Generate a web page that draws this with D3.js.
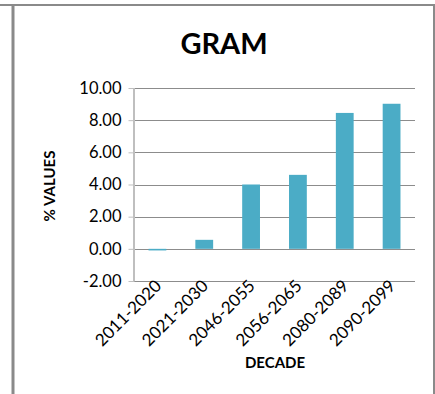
<!DOCTYPE html>
<html>
<head>
<meta charset="utf-8">
<script src="https://cdn.jsdelivr.net/npm/d3@7"></script>
<style>
  html, body { margin: 0; padding: 0; background: #fff; }
  svg { display: block; }
  text { font-family: Lato, "Open Sans", "Liberation Sans", sans-serif; fill: #000; }
</style>
</head>
<body>
<svg id="chart" width="435" height="394"></svg>
<script>
// Decade categories and percentage values
const decades = ["2011-2020", "2021-2030", "2046-2055", "2056-2065", "2080-2089", "2090-2099"];
const values = [-0.1, 0.56, 4.0, 4.6, 8.45, 9.02];
const yTicks = [-2, 0, 2, 4, 6, 8, 10];

const svg = d3.select("#chart");
const W = 435, H = 394;

// outer frame
svg.append("line").attr("x1", 0).attr("x2", 435).attr("y1", 5).attr("y2", 5)
  .attr("stroke", "#8a8a8a").attr("stroke-width", 2);
svg.append("line").attr("x1", 13).attr("x2", 13).attr("y1", 4).attr("y2", H)
  .attr("stroke", "#8a8a8a").attr("stroke-width", 3);
svg.append("line").attr("x1", 434).attr("x2", 434).attr("y1", 4).attr("y2", H)
  .attr("stroke", "#8a8a8a").attr("stroke-width", 2);

const plot = { left: 134, right: 415, top: 88, bottom: 281 };

const x = d3.scaleBand().domain(decades).range([plot.left, plot.right]).paddingInner(0.62).paddingOuter(0.31);
const y = d3.scaleLinear().domain([-2, 10]).range([plot.bottom, plot.top]);

// gridlines
svg.append("g").selectAll("line").data(yTicks).join("line")
  .attr("x1", plot.left).attr("x2", plot.right)
  .attr("y1", d => Math.round(y(d)) + 0.5).attr("y2", d => Math.round(y(d)) + 0.5)
  .attr("stroke", "#8c8c8c").attr("stroke-width", 1);

// y axis
const fmt = d => d3.format(".2f")(d).replace("\u2212", "-");
const yAxis = d3.axisLeft(y).tickValues(yTicks).tickFormat(fmt).tickSize(6).tickPadding(7);
const gy = svg.append("g").attr("transform", `translate(${plot.left + 0.5},0)`).call(yAxis);
gy.select(".domain").remove();
gy.selectAll(".tick line").attr("stroke", "#bfbfbf");
gy.selectAll(".tick text").attr("font-size", 16.5).attr("fill", "#000")
  .style("font-family", "Lato, 'Open Sans', sans-serif");
svg.append("line").attr("x1", plot.left).attr("x2", plot.left)
  .attr("y1", y(10)).attr("y2", y(-2)).attr("stroke", "#bfbfbf").attr("stroke-width", 2);

// bars
svg.append("g").selectAll("rect").data(decades).join("rect")
  .attr("x", d => x(d))
  .attr("width", x.bandwidth())
  .attr("y", (d, i) => y(Math.max(0, values[i])))
  .attr("height", (d, i) => Math.abs(y(values[i]) - y(0)))
  .attr("fill", "#4bacc6");

// x axis labels
const xAxis = d3.axisBottom(x).tickSize(0).tickPadding(0);
const gx = svg.append("g").attr("transform", `translate(0,${plot.bottom})`).call(xAxis);
gx.select(".domain").remove();
gx.selectAll(".tick text")
  .attr("font-size", 17)
  .attr("text-anchor", "end")
  .attr("dy", 0)
  .attr("transform", "translate(5,6) rotate(-45)")
  .style("font-family", "Lato, 'Open Sans', sans-serif");

// title
svg.append("text").attr("x", 224).attr("y", 54).attr("text-anchor", "middle")
  .attr("font-size", 29).attr("font-weight", "bold").text("GRAM");

// axis titles
svg.append("text").attr("transform", "translate(55,186) rotate(-90)").attr("text-anchor", "middle")
  .attr("font-size", 15).attr("font-weight", "bold").text("% VALUES");
svg.append("text").attr("x", 275).attr("y", 368).attr("text-anchor", "middle")
  .attr("font-size", 15).attr("font-weight", "bold").text("DECADE");
</script>
</body>
</html>
